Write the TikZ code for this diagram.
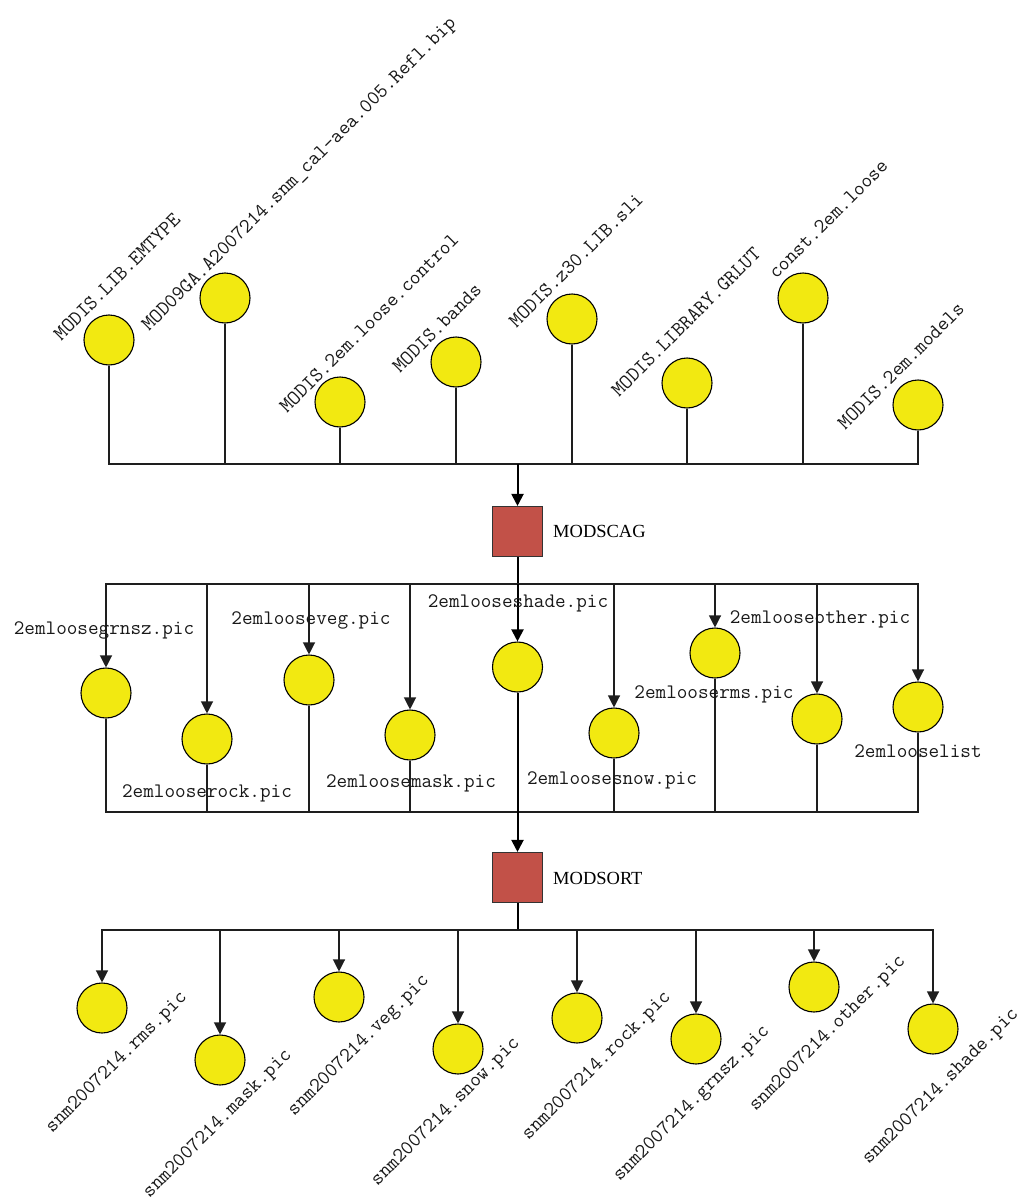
\documentclass[tikz,border=0pt]{standalone}
\usepackage{fontspec}
\setmainfont{Liberation Serif}
\newfontfamily\monofont{Latin Modern Mono}
\usetikzlibrary{arrows.meta}
\definecolor{fileyellow}{RGB}{242,233,17}
\definecolor{procred}{RGB}{194,81,72}
\definecolor{linegray}{RGB}{30,30,30}
\begin{document}
\begin{tikzpicture}[x=1pt,y=-1pt,
  file/.style={circle,draw=black,fill=fileyellow,line width=1.1pt,minimum size=50pt,inner sep=0pt},
  proc/.style={rectangle,draw=black!80,fill=procred,line width=1.1pt,minimum size=50pt,inner sep=0pt},
  lab/.style={font=\monofont\fontsize{20.6}{22}\selectfont,inner sep=0pt,text=black!90},
  rlab/.style={lab,rotate=45},
  plab/.style={font=\fontsize{18.5}{20}\selectfont,inner sep=0pt,anchor=base west},
  conn/.style={draw=linegray,line width=1.2pt},
  trunk/.style={draw=black,line width=2pt},
  arr/.style={conn,-{Triangle[length=12pt,width=12pt]}},
  tarr/.style={trunk,-{Triangle[length=12pt,width=12pt]}}]
\useasboundingbox (0,0) rectangle (1023,1201);

% top inputs
\node[file] (t1) at (109,340) {};
\node[file] (t2) at (225,298) {};
\node[file] (t3) at (340,402) {};
\node[file] (t4) at (456,362) {};
\node[file] (t5) at (572,319) {};
\node[file] (t6) at (687,383) {};
\node[file] (t7) at (803,298) {};
\node[file] (t8) at (918,405) {};
\node[rlab] (lt1) at (117,277) {MODIS.LIB.EMTYPE};
\node[rlab] (lt2) at (300,175) {MOD09GA.A2007214.snm\_cal-aea.005.Refl.bip};
\node[rlab] (lt3) at (369,323) {MODIS.2em.loose.control};
\node[rlab] (lt4) at (437,328) {MODIS.bands};
\node[rlab] (lt5) at (576,260) {MODIS.z30.LIB.sli};
\node[rlab] (lt6) at (686,322) {MODIS.LIBRARY.GRLUT};
\node[rlab] (lt7) at (828,219) {const.2em.loose};
\node[rlab] (lt8) at (901,366) {MODIS.2em.models};

\node[proc] (modscag) at (517.5,531.5) {};
\node[plab] (lmodscag) at (553,537) {MODSCAG};
\coordinate (j1) at (517.5,464);
\foreach \n in {t1,t2,t3,t4,t5,t6,t7,t8}{\draw[conn] (\n.south) |- (j1);}
\draw[tarr] (j1) -- (modscag.north);

% middle outputs
\coordinate (j2) at (517.5,584);
\coordinate (j3) at (517.5,812);
\node[file] (m1) at (106,693) {};
\node[file] (m2) at (207,739) {};
\node[file] (m3) at (309,680) {};
\node[file] (m4) at (410,735) {};
\node[file] (m5) at (517.5,667) {};
\node[file] (m6) at (614,733) {};
\node[file] (m7) at (715,653) {};
\node[file] (m8) at (817,719) {};
\node[file] (m9) at (918,707) {};
\draw[trunk] (modscag.south) -- (j2);
\foreach \n in {m1,m2,m3,m4,m6,m7,m8,m9}{
  \draw[arr] (j2) -| (\n.north);
  \draw[conn] (\n.south) |- (j3);}
\draw[tarr] (j2) -- (m5.north);
\draw[trunk] (m5.south) -- (j3);
\node[lab] (lm1) at (104,630) {2emloosegrnsz.pic};
\node[lab] (lm2) at (207,793) {2emlooserock.pic};
\node[lab] (lm3) at (311,620) {2emlooseveg.pic};
\node[lab] (lm4) at (411,783) {2emloosemask.pic};
\node[lab] (lm5) at (518,603) {2emlooseshade.pic};
\node[lab] (lm6) at (612,780) {2emloosesnow.pic};
\node[lab] (lm7) at (714,694) {2emlooserms.pic};
\node[lab] (lm8) at (820,619) {2emlooseother.pic};
\node[lab] (lm9) at (918,751) {2emlooselist};

\node[proc] (modsort) at (517.5,877.5) {};
\node[plab] (lmodsort) at (553,884) {MODSORT};
\draw[tarr] (j3) -- (modsort.north);

% bottom outputs
\coordinate (j4) at (517.5,930);
\draw[trunk] (modsort.south) -- (j4);
\node[file] (b1) at (102,1008) {};
\node[file] (b2) at (220,1060) {};
\node[file] (b3) at (339,997) {};
\node[file] (b4) at (458,1049) {};
\node[file] (b5) at (577,1018) {};
\node[file] (b6) at (696,1039) {};
\node[file] (b7) at (814,987) {};
\node[file] (b8) at (933,1029) {};
\foreach \n in {b1,b2,b3,b4,b5,b6,b7,b8}{\draw[arr] (j4) -| (\n.north);}
\node[rlab] (lb1) at (117,1063) {snm2007214.rms.pic};
\node[rlab] (lb2) at (218,1124) {snm2007214.mask.pic};
\node[rlab] (lb3) at (359,1046) {snm2007214.veg.pic};
\node[rlab] (lb4) at (446,1112) {snm2007214.snow.pic};
\node[rlab] (lb5) at (597,1066) {snm2007214.rock.pic};
\node[rlab] (lb6) at (692,1104) {snm2007214.grnsz.pic};
\node[rlab] (lb7) at (828,1034) {snm2007214.other.pic};
\node[rlab] (lb8) at (941,1087) {snm2007214.shade.pic};
\end{tikzpicture}
\end{document}
